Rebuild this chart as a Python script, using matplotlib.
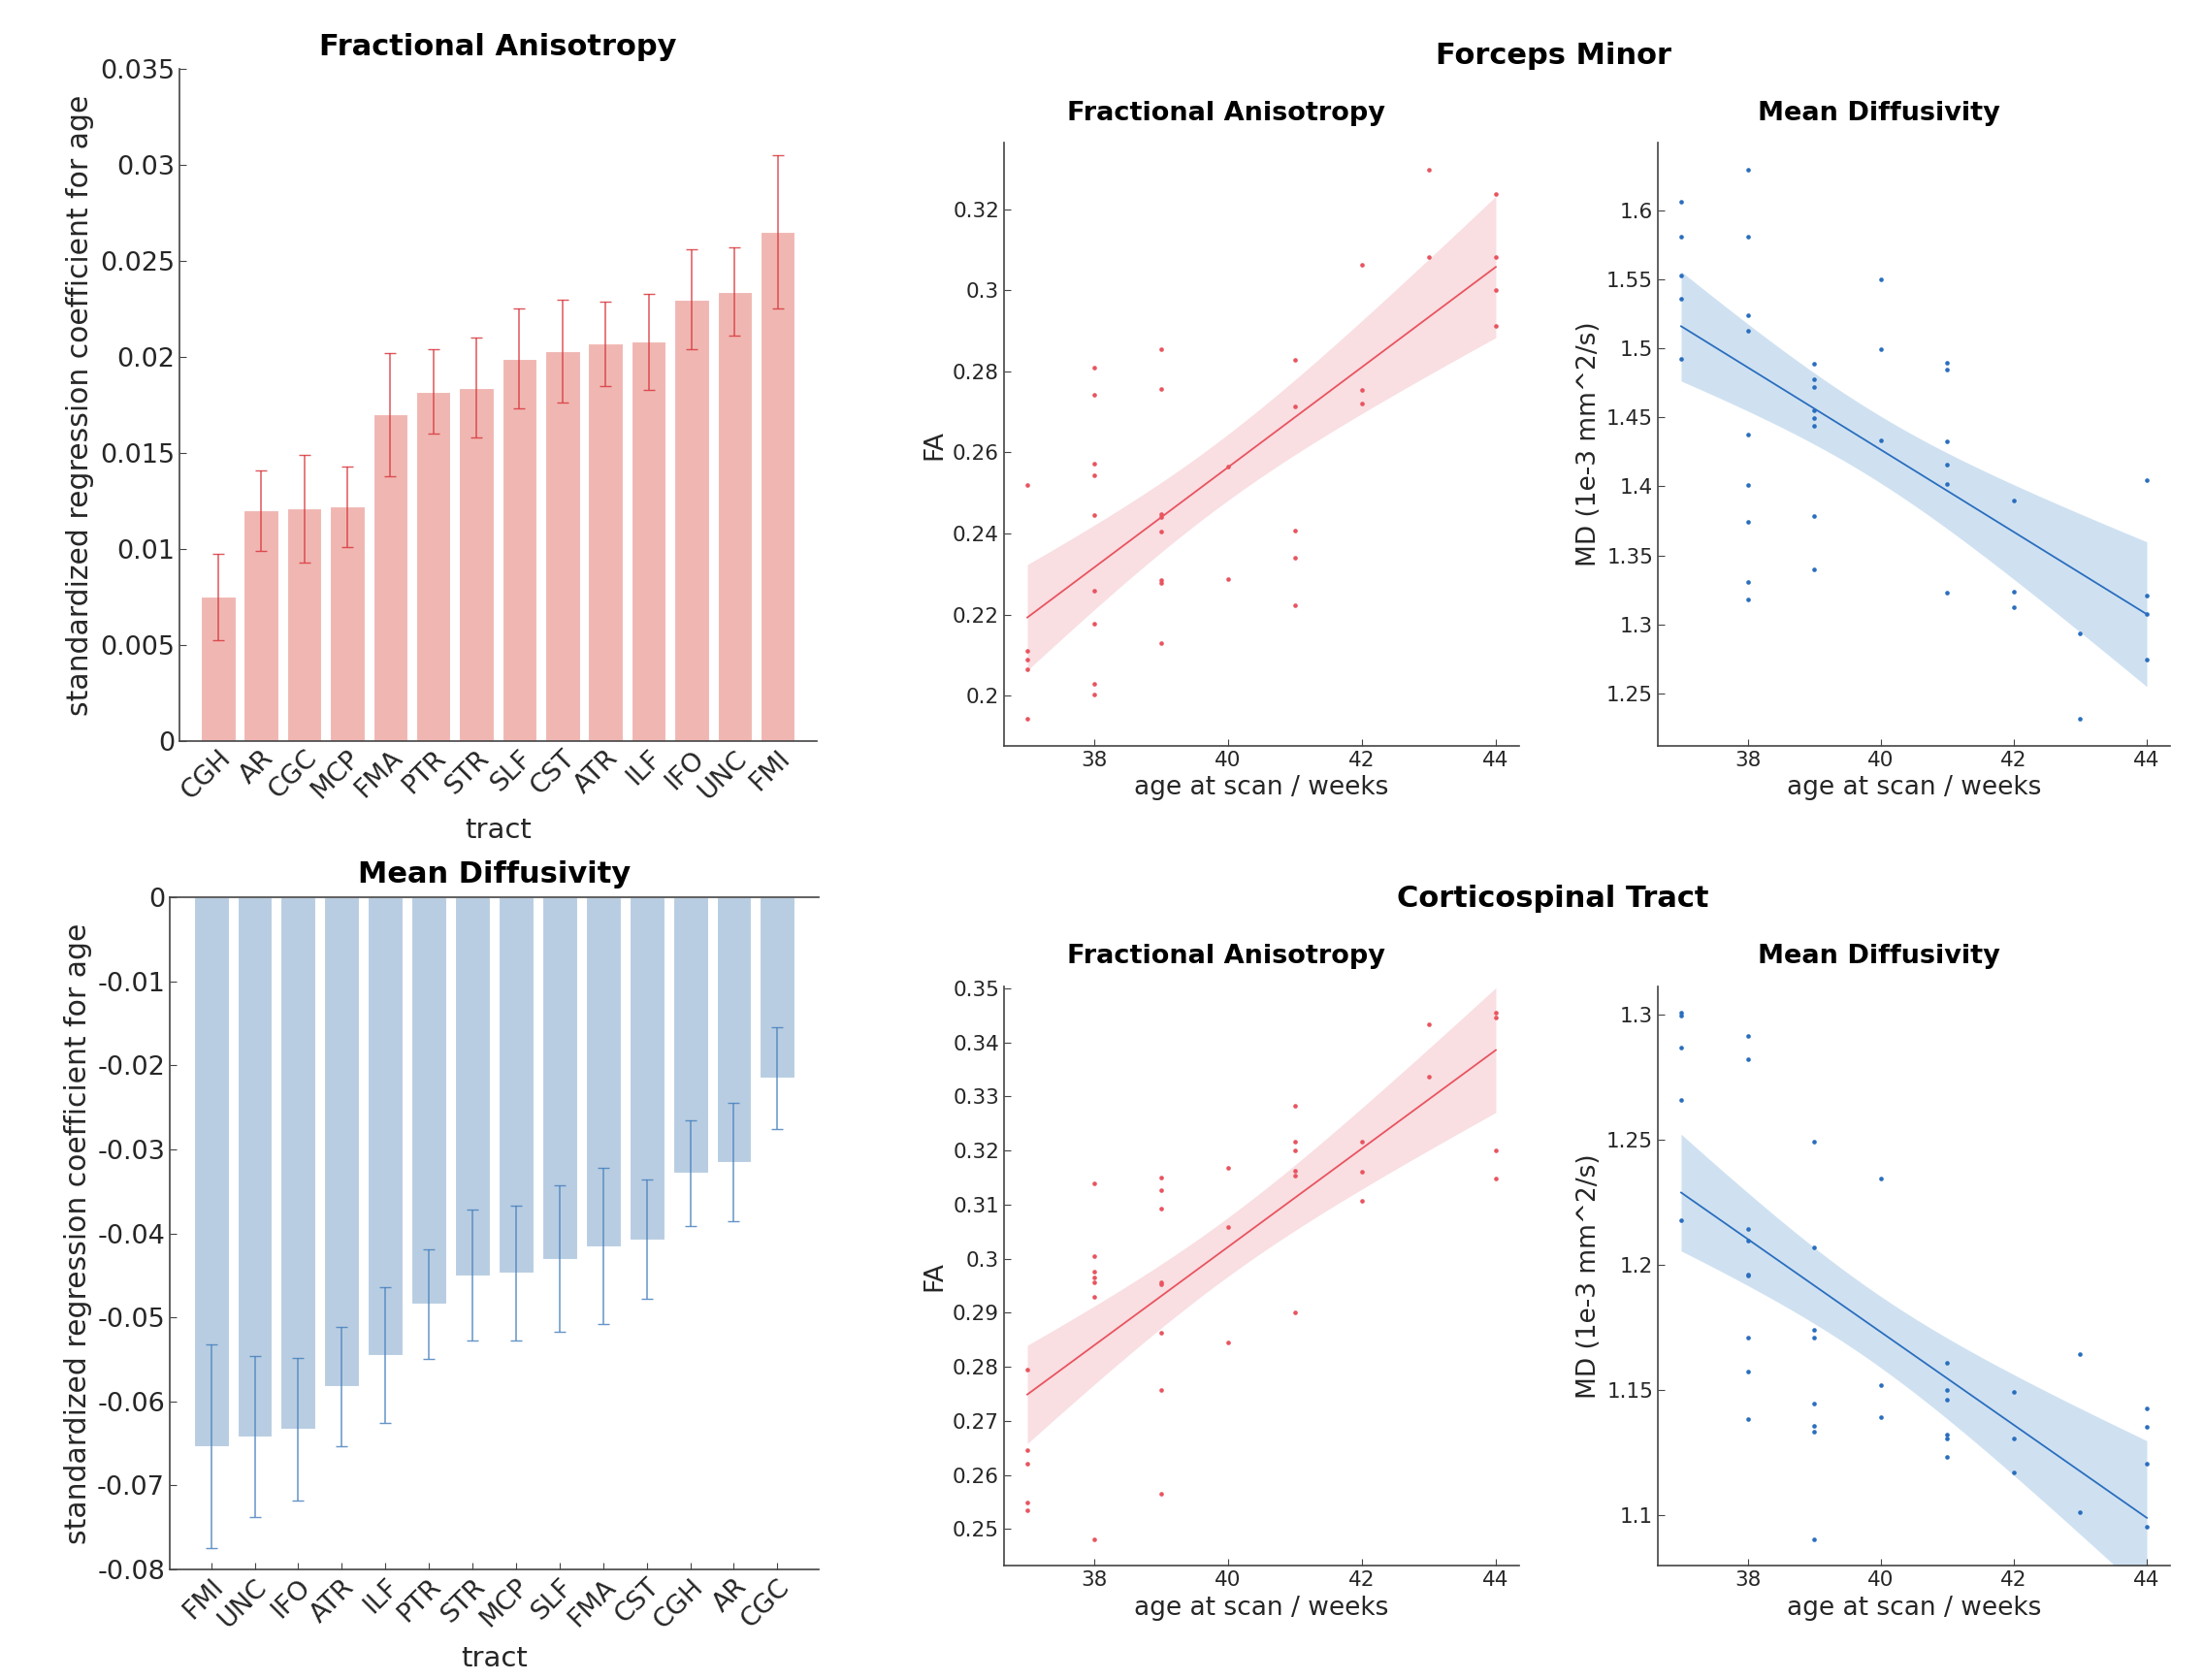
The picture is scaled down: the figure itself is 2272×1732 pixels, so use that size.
import numpy as np
import matplotlib
matplotlib.use('Agg')
import matplotlib.pyplot as plt
from matplotlib.ticker import FuncFormatter, FixedLocator

# coefficients de regression par faisceau
fa_tracts = ['CGH', 'AR', 'CGC', 'MCP', 'FMA', 'PTR', 'STR', 'SLF', 'CST', 'ATR', 'ILF', 'IFO', 'UNC', 'FMI']
fa_coef = [0.0075, 0.0120, 0.0121, 0.0122, 0.0170, 0.0182, 0.0184, 0.0199, 0.0203, 0.0207, 0.0208, 0.0230, 0.0234, 0.0265]
fa_err = [0.00225, 0.0021, 0.0028, 0.0021, 0.0032, 0.0022, 0.0026, 0.0026, 0.0027, 0.0022, 0.0025, 0.0026, 0.0023, 0.0040]

md_tracts = ['FMI', 'UNC', 'IFO', 'ATR', 'ILF', 'PTR', 'STR', 'MCP', 'SLF', 'FMA', 'CST', 'CGH', 'AR', 'CGC']
md_coef = [-0.0653, -0.0642, -0.0633, -0.0582, -0.0545, -0.0484, -0.0450, -0.0447, -0.0430, -0.0415, -0.0407, -0.0328, -0.0315, -0.0215]
md_err = [0.0121, 0.0096, 0.0085, 0.0071, 0.0081, 0.0065, 0.0078, 0.0080, 0.0087, 0.0093, 0.0071, 0.0063, 0.0070, 0.0061]

# Forceps Minor
fm_age_fa = [37, 37, 37, 37, 37, 38, 38, 38, 38, 38, 38, 38, 38, 38, 39, 39, 39, 39, 39, 39, 39, 39,
             40, 40, 41, 41, 41, 41, 41, 42, 42, 42, 43, 43, 44, 44, 44, 44]
fm_fa = [0.2520, 0.2112, 0.2089, 0.2065, 0.1944,
         0.2810, 0.2743, 0.2573, 0.2544, 0.2446, 0.2259, 0.2177, 0.2030, 0.2002,
         0.2854, 0.2757, 0.2447, 0.2441, 0.2404, 0.2286, 0.2278, 0.2129,
         0.2566, 0.2288,
         0.2828, 0.2714, 0.2408, 0.2341, 0.2223,
         0.3063, 0.2755, 0.2720,
         0.3296, 0.3083,
         0.3238, 0.3083, 0.3000, 0.2912]

fm_age_md = [37, 37, 37, 37, 37, 38, 38, 38, 38, 38, 38, 38, 38, 38, 39, 39, 39, 39, 39, 39, 39, 39,
             40, 40, 40, 41, 41, 41, 41, 41, 41, 42, 42, 42, 43, 43, 44, 44, 44, 44]
fm_md = [1.6058, 1.5810, 1.5529, 1.5357, 1.4921,
         1.6289, 1.5810, 1.5237, 1.5126, 1.4377, 1.4012, 1.3746, 1.3310, 1.3181,
         1.4889, 1.4778, 1.4719, 1.4550, 1.4491, 1.4436, 1.3787, 1.3398,
         1.5497, 1.4994, 1.4336,
         1.4898, 1.4848, 1.4327, 1.4158, 1.4018, 1.3228,
         1.3898, 1.3240, 1.3126,
         1.2933, 1.2319,
         1.4047, 1.3208, 1.3079, 1.2749]

# Corticospinal Tract
cst_age_fa = [37, 37, 37, 37, 37, 38, 38, 38, 38, 38, 38, 38, 39, 39, 39, 39, 39, 39, 39, 39,
              40, 40, 40, 41, 41, 41, 41, 41, 41, 42, 42, 42, 43, 43, 44, 44, 44, 44]
cst_fa = [0.2794, 0.2646, 0.2621, 0.2549, 0.2535,
          0.3140, 0.3004, 0.2976, 0.2966, 0.2957, 0.2929, 0.2481,
          0.3150, 0.3126, 0.3093, 0.2956, 0.2953, 0.2863, 0.2758, 0.2565,
          0.3167, 0.3058, 0.2845,
          0.3283, 0.3217, 0.3200, 0.3163, 0.3153, 0.2901,
          0.3217, 0.3160, 0.3106,
          0.3434, 0.3337,
          0.3455, 0.3446, 0.3201, 0.3149]

cst_age_md = [37, 37, 37, 37, 37, 38, 38, 38, 38, 38, 38, 38, 38, 38, 39, 39, 39, 39, 39, 39, 39, 39,
              40, 40, 40, 41, 41, 41, 41, 41, 41, 42, 42, 42, 43, 43, 44, 44, 44, 44]
cst_md = [1.3008, 1.2997, 1.2866, 1.2657, 1.2179,
          1.2913, 1.2821, 1.2144, 1.2097, 1.1960, 1.1956, 1.1707, 1.1572, 1.1381,
          1.2492, 1.2068, 1.1740, 1.1707, 1.1444, 1.1356, 1.1333, 1.0901,
          1.2343, 1.1517, 1.1390,
          1.1606, 1.1500, 1.1460, 1.1322, 1.1306, 1.1232,
          1.1491, 1.1305, 1.1169,
          1.1643, 1.1011,
          1.1423, 1.1351, 1.1205, 1.0950]

RED_BAR, RED_ERR = '#F0B7B2', '#D9383E'
BLUE_BAR, BLUE_ERR = '#B8CDE2', '#4A82BE'
RED_PT, RED_BAND = '#E8545F', '#F9DEE2'
BLUE_PT, BLUE_BAND = '#2A6EBE', '#CFE1F1'
SPINE = '#444444'
TXT = '#262626'

# format "matlab" : 0.01 au lieu de 0.010, pas de "-0"
fmt_g = FuncFormatter(lambda v, p: '%g' % (round(v, 6) + 0.0))


def style(ax, tick_size):
    ax.spines['right'].set_visible(False)
    ax.spines['top'].set_visible(False)
    for s in ax.spines.values():
        s.set_color(SPINE)
        s.set_linewidth(1.2)
    ax.tick_params(direction='in', labelsize=tick_size, colors=SPINE, labelcolor=TXT, length=5)
    ax.yaxis.set_major_formatter(fmt_g)


def bar_panel(ax, tracts, coef, err, bar_c, err_c, title, ylim, yticks, pad, lpad):
    x = np.arange(len(tracts))
    ax.bar(x, coef, width=0.8, color=bar_c, edgecolor='white', linewidth=0.8)
    ax.errorbar(x, coef, yerr=err, fmt='none', ecolor=err_c, elinewidth=1.1, capsize=4.5, alpha=0.85)
    style(ax, 19.5)
    ax.set_ylim(*ylim)
    ax.yaxis.set_major_locator(FixedLocator(yticks))
    ax.set_xticks(x)
    ax.set_xticklabels(tracts, rotation=45, ha='right', rotation_mode='anchor')
    ax.set_xlabel('tract', fontsize=21, color=TXT, labelpad=lpad)
    ax.set_ylabel('standardized regression coefficient for age', fontsize=21.5, color=TXT)
    ax.set_title(title, fontsize=22, fontweight='bold', pad=pad)


def reg_panel(ax, age, val, pt_c, band_c, title, ylabel, yticks):
    age = np.array(age, dtype=float)
    val = np.array(val, dtype=float)
    ax.scatter(age, val, s=11, color=pt_c, zorder=3, linewidths=0)
    ylim = ax.get_ylim()
    # droite des moindres carres et IC 95 %
    slope, icpt = np.polyfit(age, val, 1)
    n = len(age)
    resid = val - (slope * age + icpt)
    s = np.sqrt(np.sum(resid ** 2) / (n - 2))
    xg = np.linspace(age.min(), age.max(), 100)
    yg = slope * xg + icpt
    se = s * np.sqrt(1.0 / n + (xg - age.mean()) ** 2 / np.sum((age - age.mean()) ** 2))
    ax.fill_between(xg, yg - 2.03 * se, yg + 2.03 * se, color=band_c, linewidth=0, zorder=1)
    ax.plot(xg, yg, color=pt_c, lw=1.3, zorder=2)
    ax.set_ylim(ylim)
    style(ax, 15.5)
    ax.set_xticks([38, 40, 42, 44])
    ax.yaxis.set_major_locator(FixedLocator(yticks))
    ax.set_xlabel('age at scan / weeks', fontsize=19, color=TXT, labelpad=4)
    ax.set_ylabel(ylabel, fontsize=19, color=TXT)
    ax.set_title(title, fontsize=19.5, fontweight='bold', pad=17, x=0.432)


fig = plt.figure(figsize=(22.72, 17.32), dpi=100)

ax1 = fig.add_axes([0.0814, 0.559, 0.289, 0.400])
bar_panel(ax1, fa_tracts, fa_coef, fa_err, RED_BAR, RED_ERR, 'Fractional Anisotropy',
          (0, 0.035), np.arange(0, 0.0351, 0.005), 10, 9)
ax1.set_xlim(-0.9, 13.9)
ax1.tick_params(axis='x', length=0)

ax2 = fig.add_axes([0.077, 0.0658, 0.2945, 0.400])
bar_panel(ax2, md_tracts, md_coef, md_err, BLUE_BAR, BLUE_ERR, 'Mean Diffusivity',
          (-0.08, 0), np.arange(-0.08, 0.0001, 0.01), 11, 9)
ax2.set_xlim(-0.95, 13.95)
ax2.spines['top'].set_visible(True)

ax3 = fig.add_axes([0.4555, 0.556, 0.2338, 0.359])
reg_panel(ax3, fm_age_fa, fm_fa, RED_PT, RED_BAND, 'Fractional Anisotropy', 'FA',
          [0.2, 0.22, 0.24, 0.26, 0.28, 0.3, 0.32])
ax4 = fig.add_axes([0.7522, 0.556, 0.2324, 0.359])
reg_panel(ax4, fm_age_md, fm_md, BLUE_PT, BLUE_BAND, 'Mean Diffusivity', 'MD (1e-3 mm^2/s)',
          [1.25, 1.3, 1.35, 1.4, 1.45, 1.5, 1.55, 1.6])
ax5 = fig.add_axes([0.4555, 0.068, 0.2338, 0.345])
reg_panel(ax5, cst_age_fa, cst_fa, RED_PT, RED_BAND, 'Fractional Anisotropy', 'FA',
          np.arange(0.25, 0.3501, 0.01))
ax6 = fig.add_axes([0.7522, 0.068, 0.2324, 0.345])
reg_panel(ax6, cst_age_md, cst_md, BLUE_PT, BLUE_BAND, 'Mean Diffusivity', 'MD (1e-3 mm^2/s)',
          [1.1, 1.15, 1.2, 1.25, 1.3])

fig.text(0.7047, 0.967, 'Forceps Minor', ha='center', va='center', fontsize=22, fontweight='bold')
fig.text(0.7047, 0.4648, 'Corticospinal Tract', ha='center', va='center', fontsize=22, fontweight='bold')

fig.savefig('out.png', dpi=100)
